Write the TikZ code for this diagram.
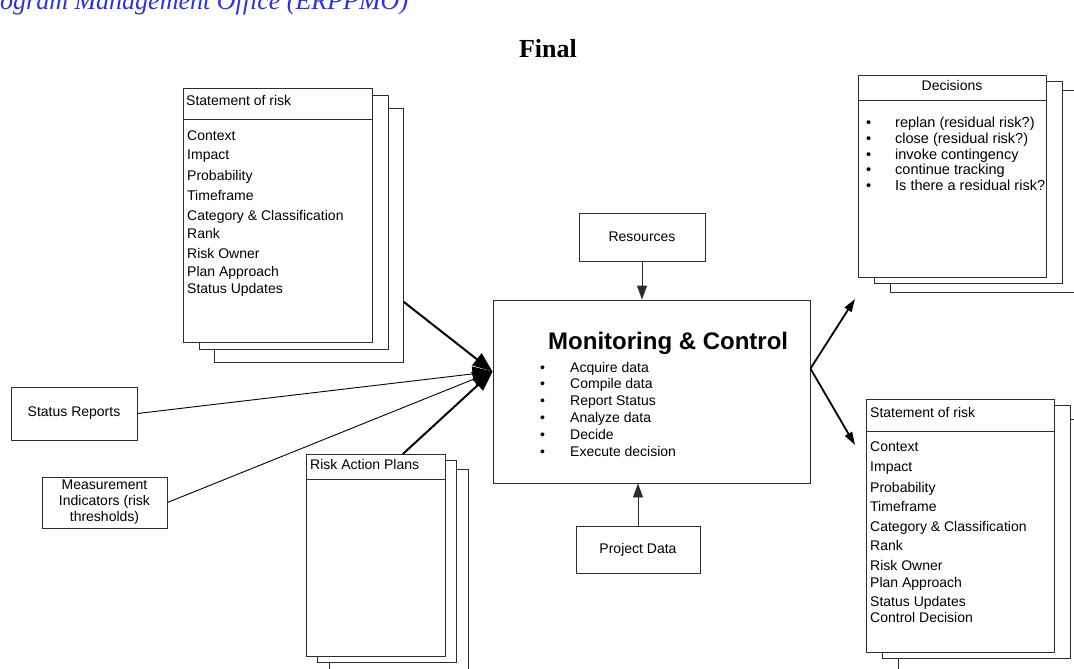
\documentclass[tikz,border=0pt]{standalone}
\usepackage{fontspec}
\setmainfont{Liberation Sans}
\newfontfamily\headfont{Liberation Serif}
\usetikzlibrary{arrows.meta}
\definecolor{headblue}{RGB}{45,45,235}
\definecolor{edge}{RGB}{45,45,45}

\begin{document}
\begin{tikzpicture}[x=1pt,y=-1pt,
  every node/.style={inner sep=0pt,font=\fontsize{14}{17}\selectfont},
  sheet/.style 2 args={draw=edge,fill=white,line width=0.9pt,anchor=north west,
    minimum width=#1,minimum height=#2},
  box/.style={draw=edge,fill=white,line width=0.9pt,align=center},
  line/.style={anchor=base west},
  feed/.style={line width=0.9pt,-{Triangle[length=20pt,width=15pt]}},
  flow/.style={line width=2pt,-{Triangle[length=20pt,width=15pt]}},
  outflow/.style={line width=1.8pt,-{Triangle[length=13pt,width=8pt]}},
  supply/.style={draw=edge,line width=0.9pt,-{Triangle[length=14pt,width=10pt]}}]
  \useasboundingbox (0,0) rectangle (1074,669);

  \node[line,font=\headfont\itshape\fontsize{26}{30}\selectfont,text=headblue] (header) at (0,10)
    {ogram Management Office (ERPPMO)};
  \node[line,anchor=base,font=\headfont\bfseries\fontsize{26}{30}\selectfont] (final) at (548,58) {Final};

  % statement of risk, left stack
  \foreach \nm/\x/\y in {lrisk-back/214/108, lrisk-mid/199/95, lrisk/183/88}
    \node[sheet={189pt}{254pt}] (\nm) at (\x,\y) {};
  \draw[edge,line width=0.9pt] ([yshift=-31pt]lrisk.north west) -- ([yshift=-31pt]lrisk.north east);
  \node[line] (lrisk-title) at (186,105) {Statement of risk};
  \foreach \y/\t [count=\i] in {140/Context, 159/Impact, 180/Probability, 200/Timeframe,
      220/Category \& Classification, 238/Rank, 258/Risk Owner, 276/Plan Approach, 293/Status Updates}
    \node[line] (lrisk-l\i) at (187,\y) {\t};

  % decisions stack
  \foreach \nm/\x/\y in {dec-back/890/90, dec-mid/874/81, dec/858/75}
    \node[sheet={188pt}{202pt}] (\nm) at (\x,\y) {};
  \draw[edge,line width=0.9pt] ([yshift=-25pt]dec.north west) -- ([yshift=-25pt]dec.north east);
  \node[line,anchor=base] (dec-title) at (952,90) {Decisions};
  \foreach \t [count=\i] in {replan (residual risk?), close (residual risk?), invoke contingency,
      continue tracking, Is there a residual risk?} {
    \node[line,font=\fontsize{14.5}{17}\selectfont] (dec-b\i) at (866,{112.5+15.5*\i}) {•};
    \node[line,font=\fontsize{14.5}{17}\selectfont] (dec-l\i) at (895,{112.5+15.5*\i}) {\t};
  }

  % statement of risk, right stack
  \foreach \nm/\x/\y in {rrisk-back/898/419, rrisk-mid/882/405, rrisk/866/399}
    \node[sheet={188pt}{253pt}] (\nm) at (\x,\y) {};
  \draw[edge,line width=0.9pt] ([yshift=-32pt]rrisk.north west) -- ([yshift=-32pt]rrisk.north east);
  \node[line] (rrisk-title) at (870,417) {Statement of risk};
  \foreach \y/\t [count=\i] in {451/Context, 471/Impact, 492/Probability, 511/Timeframe,
      531/Category \& Classification, 550/Rank, 570/Risk Owner, 587/Plan Approach,
      606/Status Updates, 622/Control Decision}
    \node[line] (rrisk-l\i) at (870,\y) {\t};

  % risk action plans stack
  \foreach \nm/\x/\y in {rap-back/329/469, rap-mid/317/460, rap/306/454}
    \node[sheet={139pt}{202pt}] (\nm) at (\x,\y) {};
  \draw[edge,line width=0.9pt] ([yshift=-25pt]rap.north west) -- ([yshift=-25pt]rap.north east);
  \node[line] (rap-title) at (310,469) {Risk Action Plans};

  % monitoring & control
  \node[box,minimum width=317pt,minimum height=183pt] (monitor) at (651.5,391.5) {};
  \node[line,font=\bfseries\fontsize{24}{28}\selectfont] (monitor-title) at (548,349) {Monitoring \& Control};
  \foreach \t [count=\i] in {Acquire data, Compile data, Report Status, Analyze data, Decide, Execute decision} {
    \node[line] (mon-b\i) at (540,{355.2+16.8*\i}) {•};
    \node[line] (mon-l\i) at (570,{355.2+16.8*\i}) {\t};
  }

  \node[box,minimum width=126pt,minimum height=48pt] (resources) at (642,237) {Resources};
  \node[box,minimum width=124pt,minimum height=47pt] (project) at (638,549.5) {Project Data};
  \node[box,minimum width=126pt,minimum height=53pt] (status) at (74,413.5) {Status Reports};
  \node[box,minimum width=125pt,minimum height=51pt,font=\fontsize{14}{16}\selectfont] (measure) at (104.5,502.5)
    {Measurement\\Indicators (risk\\thresholds)};

  \coordinate (mc-in) at ([yshift=-72pt]monitor.north west);
  \coordinate (mc-out) at ([yshift=-69pt]monitor.north east);
  \coordinate (dec-in) at ([xshift=-3pt,yshift=-21pt]dec.south west);
  \coordinate (rrisk-in) at ([xshift=-11pt,yshift=-46pt]rrisk.north west);

  \draw[feed] (status.east) -- (mc-in);
  \draw[feed] (measure.east) -- (mc-in);
  \draw[flow] ([yshift=-194pt]lrisk-back.north east) -- (mc-in);
  \draw[flow] ([xshift=-43pt]rap.north east) -- (mc-in);
  \draw[supply] (resources.south) -- (monitor.north -| resources.south);
  \draw[supply] (project.north) -- (monitor.south -| project.north);
  \draw[outflow] (mc-out) -- (dec-in);
  \draw[outflow] (mc-out) -- (rrisk-in);
\end{tikzpicture}
\end{document}
